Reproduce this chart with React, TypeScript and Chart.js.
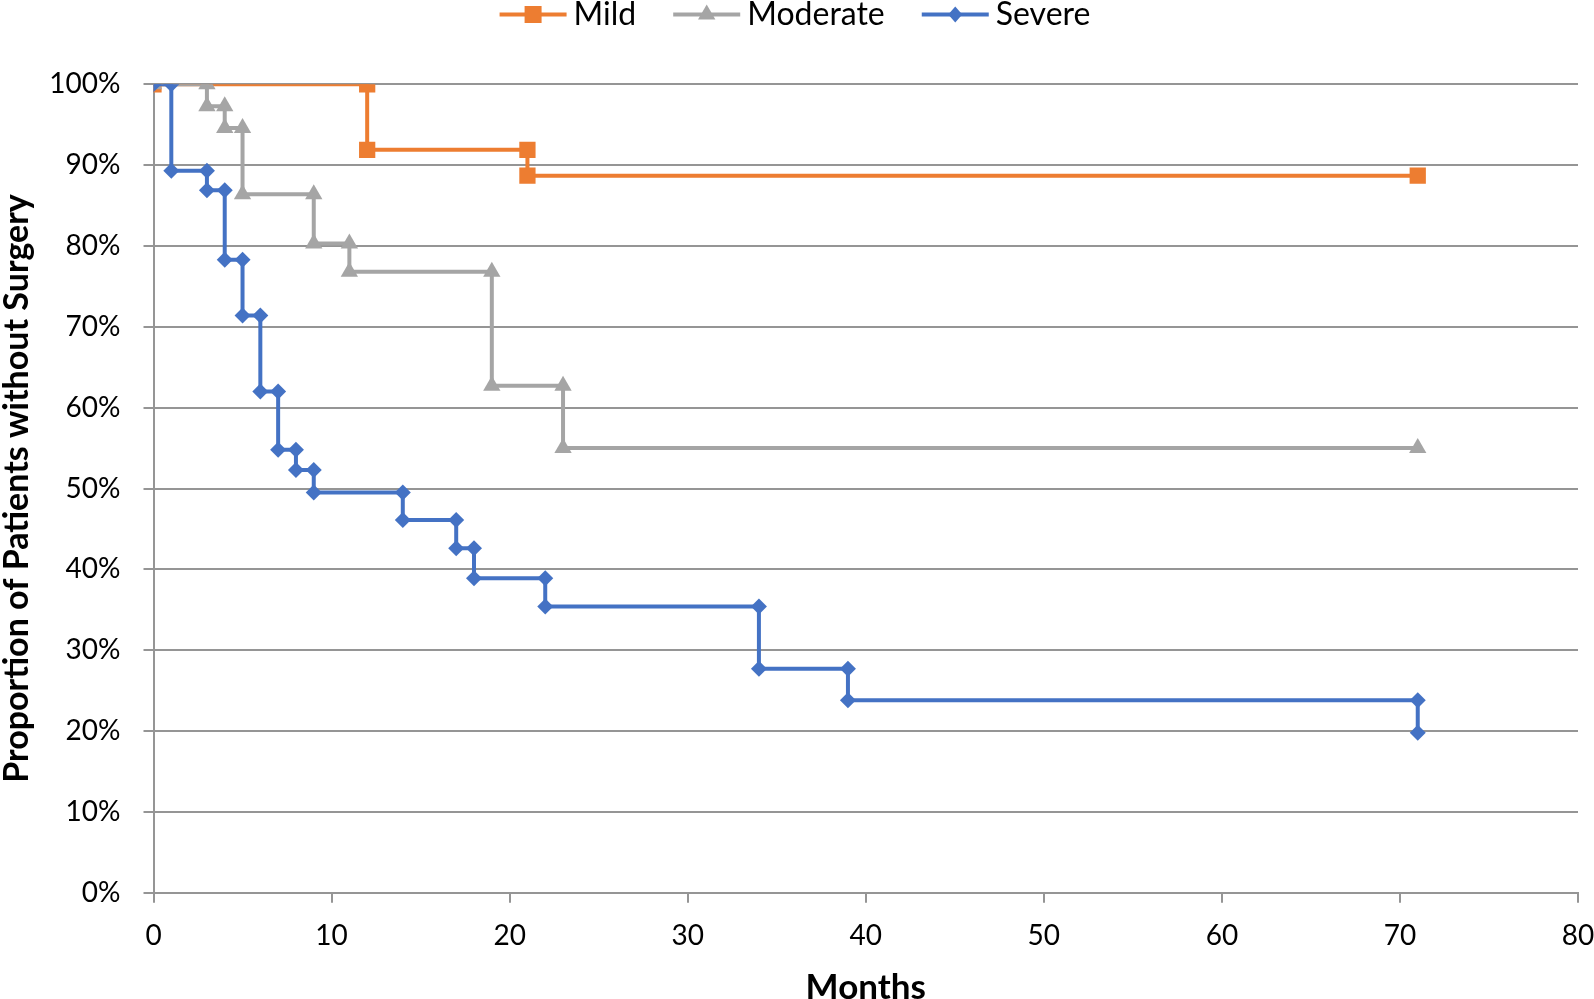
import { useEffect, useRef } from "react";
import { Chart, registerables } from "chart.js";

Chart.register(...registerables);

// ---- Data ----
const seriesNames = ["Mild", "Moderate", "Severe"];
const seriesColors = ["#ED7D31", "#A5A5A5", "#4472C4"];

const mildMonths = [0, 12, 12, 21, 21, 71];
const mildValues = [100, 100, 91.9, 91.9, 88.7, 88.7];

const moderateMonths = [0, 3, 3, 4, 4, 5, 5, 9, 9, 11, 11, 19, 19, 23, 23, 71];
const moderateValues = [100, 100, 97.3, 97.3, 94.6, 94.6, 86.4, 86.4, 80.3, 80.3, 76.8, 76.8, 62.7, 62.7, 55.0, 55.0];

const severeMonths = [0, 1, 1, 3, 3, 4, 4, 5, 5, 6, 6, 7, 7, 8, 8, 9, 9, 14, 14, 17, 17, 18, 18, 22, 22, 34, 34, 39, 39, 71, 71];
const severeValues = [100, 100, 89.3, 89.3, 86.9, 86.9, 78.3, 78.3, 71.4, 71.4, 62.0, 62.0, 54.8, 54.8, 52.3, 52.3, 49.5, 49.5, 46.1, 46.1, 42.6, 42.6, 38.9, 38.9, 35.4, 35.4, 27.7, 27.7, 23.8, 23.8, 19.8];

const xTickMin = 0;
const xTickMax = 80;
const xTickStep = 10;
const yTickMin = 0;
const yTickMax = 100;
const yTickStep = 10;

const xTitle = "Months";
const yTitle = "Proportion of Patients without Surgery";

const FONT = "Lato, 'DejaVu Sans', sans-serif";
const GRID = "#959595";

function toPoints(xs: number[], ys: number[]) {
  return xs.map((x, i) => ({ x, y: ys[i] }));
}

function drawMarker(ctx: CanvasRenderingContext2D, style: string, cx: number, cy: number, color: string) {
  ctx.fillStyle = color;
  ctx.beginPath();
  if (style === "rect") {
    ctx.rect(cx - 8.5, cy - 8.5, 17, 17);
  } else if (style === "triangle") {
    ctx.moveTo(cx, cy - 10);
    ctx.lineTo(cx + 8.7, cy + 5);
    ctx.lineTo(cx - 8.7, cy + 5);
    ctx.closePath();
  } else {
    ctx.moveTo(cx, cy - 8);
    ctx.lineTo(cx + 7, cy);
    ctx.lineTo(cx, cy + 8);
    ctx.lineTo(cx - 7, cy);
    ctx.closePath();
  }
  ctx.fill();
}

const legendPlugin = {
  id: "kmLegend",
  afterDraw(chart: any) {
    const ctx: CanvasRenderingContext2D = chart.ctx;
    ctx.save();
    ctx.font = `32px ${FONT}`;
    ctx.textBaseline = "middle";
    ctx.textAlign = "left";
    const lineLen = 67;
    const gap = 7;
    const spacing = 37;
    const items = chart.data.datasets.map((ds: any) => ({
      label: ds.label,
      color: ds.borderColor,
      style: ds.pointStyle,
      w: ctx.measureText(ds.label).width,
    }));
    const total =
      items.reduce((s: number, it: any) => s + lineLen + gap + it.w, 0) + spacing * (items.length - 1);
    let x = chart.width / 2 - total / 2 - 2;
    const y = 14.5;
    for (const it of items) {
      ctx.strokeStyle = it.color;
      ctx.lineWidth = 4;
      ctx.beginPath();
      ctx.moveTo(x, y);
      ctx.lineTo(x + lineLen, y);
      ctx.stroke();
      drawMarker(ctx, it.style, x + lineLen / 2, y, it.color);
      ctx.fillStyle = "#000";
      ctx.fillText(it.label, x + lineLen + gap, y);
      x += lineLen + gap + it.w + spacing;
    }
    ctx.restore();
  },
};

export default function App() {
  const canvasRef = useRef<HTMLCanvasElement | null>(null);

  useEffect(() => {
    document.body.style.margin = "0";
    document.body.style.overflow = "hidden";
    if (!canvasRef.current) return;
    Chart.defaults.font.family = FONT;
    Chart.defaults.color = "#000";

    const chart = new Chart(canvasRef.current, {
      type: "line",
      data: {
        datasets: [
          {
            label: seriesNames[0],
            data: toPoints(mildMonths, mildValues),
            borderColor: seriesColors[0],
            backgroundColor: seriesColors[0],
            pointStyle: "rect",
            pointRadius: 11.5,
            pointBorderWidth: 0,
            borderWidth: 4,
            order: 2,
          },
          {
            label: seriesNames[1],
            data: toPoints(moderateMonths, moderateValues),
            borderColor: seriesColors[1],
            backgroundColor: seriesColors[1],
            pointStyle: "triangle",
            pointRadius: 10,
            pointBorderWidth: 0,
            borderWidth: 4,
            order: 1,
          },
          {
            label: seriesNames[2],
            data: toPoints(severeMonths, severeValues),
            borderColor: seriesColors[2],
            backgroundColor: seriesColors[2],
            pointStyle: "rectRot",
            pointRadius: 8,
            pointBorderWidth: 0,
            borderWidth: 4,
            order: 0,
          },
        ],
      },
      options: {
        animation: false,
        responsive: true,
        maintainAspectRatio: false,
        layout: { padding: { top: 84.3, right: 16, left: 0, bottom: 0 } },
        plugins: {
          legend: { display: false },
          tooltip: { enabled: false },
        },
        elements: { line: { tension: 0 } },
        scales: {
          x: {
            type: "linear",
            min: xTickMin,
            max: xTickMax,
            ticks: {
              stepSize: xTickStep,
              font: { size: 28 },
              color: "#000",
              padding: 16,
              maxRotation: 0,
            },
            grid: {
              drawOnChartArea: false,
              drawTicks: true,
              tickLength: 10,
              color: GRID,
              lineWidth: 2,
            },
            border: { display: true, color: GRID, width: 2 },
            title: {
              display: true,
              text: xTitle,
              font: { size: 35, weight: "bold", lineHeight: 0.63 },
              color: "#000",
              padding: 0,
            },
            afterFit: (s: any) => {
              s.height = 106.3;
              s.paddingLeft = 0;
              s.paddingRight = 0;
            },
          },
          y: {
            type: "linear",
            min: yTickMin,
            max: yTickMax,
            ticks: {
              stepSize: yTickStep,
              font: { size: 28 },
              color: "#000",
              padding: 23,
              callback: (v: any) => `${v}%`,
            },
            grid: {
              drawTicks: true,
              tickLength: 10,
              color: GRID,
              lineWidth: 2,
            },
            border: { display: true, color: GRID, width: 2 },
            title: {
              display: true,
              text: yTitle,
              font: { size: 34, weight: "bold", lineHeight: 1.0 },
              color: "#000",
              padding: 0,
            },
            afterFit: (s: any) => {
              s.width = 153.5;
              s.paddingTop = 0;
              s.paddingBottom = 0;
            },
          },
        },
      },
      plugins: [legendPlugin],
    } as any);

    return () => chart.destroy();
  }, []);

  return (
    <div style={{ position: "relative", width: "1594px", height: "999px" }}>
      <canvas ref={canvasRef} />
    </div>
  );
}
